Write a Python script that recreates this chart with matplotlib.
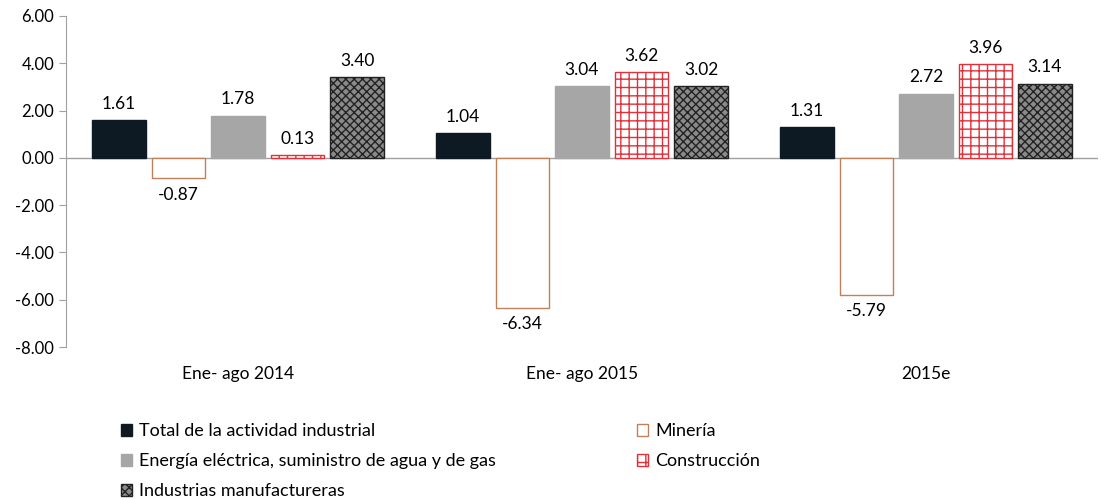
import numpy as np
import matplotlib.pyplot as plt

plt.rcParams['font.family'] = ['Lato', 'DejaVu Sans']
plt.rcParams['hatch.linewidth'] = 1.0

# Data
categories = ['Ene- ago 2014', 'Ene- ago 2015', '2015e']
series = ['Total de la actividad industrial', 'Minería',
          'Energía eléctrica, suministro de agua y de gas',
          'Construcción', 'Industrias manufactureras']
total = [1.61, 1.04, 1.31]
mineria = [-0.87, -6.34, -5.79]
energia = [1.78, 3.04, 2.72]
construccion = [0.13, 3.62, 3.96]
manufactura = [3.40, 3.02, 3.14]
values = [total, mineria, energia, construccion, manufactura]

styles = [
    dict(facecolor='#0D1A24', edgecolor='#0D1A24', hatch=None),
    dict(facecolor='white', edgecolor='#C0805A', hatch=None),
    dict(facecolor='#A6A6A6', edgecolor='#A6A6A6', hatch=None),
    dict(facecolor='white', edgecolor='#E0303A', hatch='++'),
    dict(facecolor='#8A8A8A', edgecolor='#222222', hatch='xxxx'),
]

fig = plt.figure(figsize=(11.06, 5), dpi=100)
ax = fig.add_axes([0.0597, 0.306, 0.933, 0.662])

x = np.arange(len(categories))
width = 0.155
step = 0.173
handles = []
for i, (name, vals, st) in enumerate(zip(series, values, styles)):
    pos = x + (i - 2) * step
    bars = ax.bar(pos, vals, width, label=name, linewidth=1.0, **st)
    handles.append(bars)
    for b, v in zip(bars, vals):
        if v >= 0:
            ax.text(b.get_x() + b.get_width() / 2, v + 0.35, f'{v:.2f}',
                    ha='center', va='bottom', fontsize=12.5)
        else:
            ax.text(b.get_x() + b.get_width() / 2, v - 0.35, f'{v:.2f}',
                    ha='center', va='top', fontsize=12.5)

ax.set_xlim(-0.5, 2.5)
ax.set_ylim(-8, 6)
ax.set_yticks(np.arange(-8, 7, 2))
ax.set_yticklabels([f'{t:.2f}' for t in np.arange(-8, 7, 2)], fontsize=12)
ax.axhline(0, color='#A0A0A0', linewidth=1.0, zorder=0)
ax.set_xticks(x)
ax.set_xticklabels(categories, fontsize=12.5)
ax.tick_params(axis='x', length=0, pad=14)
ax.tick_params(axis='y', length=5, color='#A0A0A0', direction='out')
for s in ['top', 'right', 'bottom']:
    ax.spines[s].set_visible(False)
ax.spines['left'].set_color('#A0A0A0')

order = [0, 2, 4, 1, 3]
fig.legend([handles[k] for k in order], [series[k] for k in order],
           loc='upper left', bbox_to_anchor=(0.103, 0.168), ncol=2,
           frameon=False, fontsize=13, handlelength=0.6, handleheight=0.6,
           handletextpad=0.4, columnspacing=7.8, labelspacing=0.78,
           borderaxespad=0)

fig.savefig('out.png', dpi=100)
